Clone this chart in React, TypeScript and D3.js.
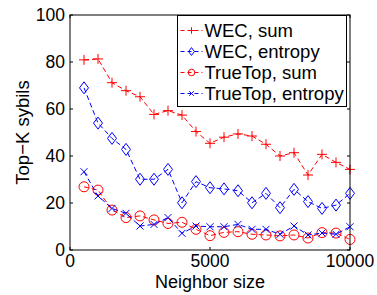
import * as d3 from 'd3';

const W = 377;
const H = 295;
const margin = { top: 15, right: 27, bottom: 45, left: 70 };

const neighborSizes = [500, 1000, 1500, 2000, 2500, 3000, 3500, 4000, 4500, 5000, 5500, 6000, 6500, 7000, 7500, 8000, 8500, 9000, 9500, 10000];
const wecSum = [80.9, 81.3, 71.2, 67.8, 65.2, 57.7, 59.3, 57.4, 50.4, 45.4, 48, 49.4, 48.5, 45, 40, 41.4, 31.9, 40.7, 37.3, 34.3];
const wecEntropy = [69, 54, 47.5, 42.8, 30.1, 30.1, 34.3, 20.1, 29.1, 26.5, 26, 25.2, 20.1, 24.1, 18, 25.8, 20.6, 17.7, 19.1, 24.1];
const trueTopSum = [26.9, 25.5, 17, 13.8, 14.5, 12.8, 11.3, 11.8, 8.8, 6.1, 7.5, 7.8, 6.7, 6.4, 6, 6.4, 5.1, 7.4, 7.2, 4.5];
const trueTopEntropy = [33.3, 23, 17.7, 15.6, 10.2, 10.9, 13.8, 7.1, 10.2, 9.9, 9.9, 10.9, 8.8, 8.8, 6.7, 10.2, 6.4, 7.2, 6.7, 9.9];

const xTicks = [0, 5000, 10000];
const yTicks = [0, 20, 40, 60, 80, 100];

const series = [
  { name: 'WEC, sum', values: wecSum, color: '#ff0000', marker: 'plus' },
  { name: 'WEC, entropy', values: wecEntropy, color: '#0000ff', marker: 'diamond' },
  { name: 'TrueTop, sum', values: trueTopSum, color: '#ff0000', marker: 'circle' },
  { name: 'TrueTop, entropy', values: trueTopEntropy, color: '#0000ff', marker: 'cross' },
];

const font = "'Liberation Sans', Arial, Helvetica, sans-serif";

function Marker({ type, x, y, color, s = 1 }: { type: string; x: number; y: number; color: string; s?: number }) {
  if (type === 'plus') {
    const r = 5 * s;
    return <path d={`M${x - r},${y}H${x + r}M${x},${y - r}V${y + r}`} stroke={color} strokeWidth={1} fill="none" />;
  }
  if (type === 'diamond') {
    const h = 6 * s;
    const w = 4.5 * s;
    return <path d={`M${x},${y - h}L${x + w},${y}L${x},${y + h}L${x - w},${y}Z`} stroke={color} strokeWidth={1} fill="none" />;
  }
  if (type === 'circle') {
    return <circle cx={x} cy={y} r={5 * s} stroke={color} strokeWidth={1} fill="none" />;
  }
  const r = 3.5 * s;
  return <path d={`M${x - r},${y - r}L${x + r},${y + r}M${x - r},${y + r}L${x + r},${y - r}`} stroke={color} strokeWidth={1} fill="none" />;
}

export default function App() {
  const x = d3.scaleLinear().domain([0, 10000]).range([margin.left, W - margin.right]);
  const y = d3.scaleLinear().domain([0, 100]).range([H - margin.bottom, margin.top]);
  const [x0, x1] = x.range();
  const [y0, y1] = y.range();

  const line = d3
    .line<number>()
    .x((_, i) => x(neighborSizes[i]))
    .y((d) => y(d));

  // legend geometry
  const lx = 177.5;
  const ly = 15.5;
  const lw = 169;
  const lh = 91;
  const rowH = 21;

  return (
    <svg width={W} height={H} style={{ position: 'absolute', left: 0, top: 0, background: '#fff' }} fontFamily={font}>
      <rect x={0} y={0} width={W} height={H} fill="#fff" />

      {series.map((s) => (
        <g key={s.name}>
          <path d={line(s.values) || ''} fill="none" stroke={s.color} strokeWidth={1} strokeDasharray="5,3" />
          {s.values.map((v, i) => (
            <Marker key={i} type={s.marker} x={x(neighborSizes[i])} y={y(v)} color={s.color} />
          ))}
        </g>
      ))}

      {/* axes box */}
      <rect x={x0} y={y1} width={x1 - x0} height={y0 - y1} fill="none" stroke="#000" strokeWidth={1} />
      {xTicks.map((t) => (
        <g key={t}>
          <line x1={x(t)} x2={x(t)} y1={y0} y2={y0 - 3} stroke="#000" />
          <line x1={x(t)} x2={x(t)} y1={y1} y2={y1 + 3} stroke="#000" />
          <text x={x(t)} y={y0 + 17} textAnchor="middle" fontSize={17.5}>{t}</text>
        </g>
      ))}
      {yTicks.map((t) => (
        <g key={t}>
          <line x1={x0} x2={x0 + 3} y1={y(t)} y2={y(t)} stroke="#000" />
          <line x1={x1} x2={x1 - 3} y1={y(t)} y2={y(t)} stroke="#000" />
          <text x={x0 - 5} y={y(t) + 6} textAnchor="end" fontSize={17.5}>{t}</text>
        </g>
      ))}

      <text x={(x0 + x1) / 2} y={287.5} textAnchor="middle" fontSize={18}>Neighbor size</text>
      <text transform={`translate(29,${(y0 + y1) / 2}) rotate(-90)`} textAnchor="middle" fontSize={18.5}>Top−K sybils</text>

      {/* legend */}
      <rect x={lx} y={ly} width={lw} height={lh} fill="#fff" stroke="#000" strokeWidth={1} />
      {series.map((s, i) => {
        const cy = ly + 15 + i * rowH;
        return (
          <g key={s.name}>
            <line x1={lx + 3} x2={lx + 25} y1={cy} y2={cy} stroke={s.color} strokeDasharray="4,3" />
            <Marker type={s.marker} x={lx + 14} y={cy} color={s.color} s={0.65} />
            <text x={lx + 27} y={cy + 6.5} fontSize={18.5}>{s.name}</text>
          </g>
        );
      })}
    </svg>
  );
}
